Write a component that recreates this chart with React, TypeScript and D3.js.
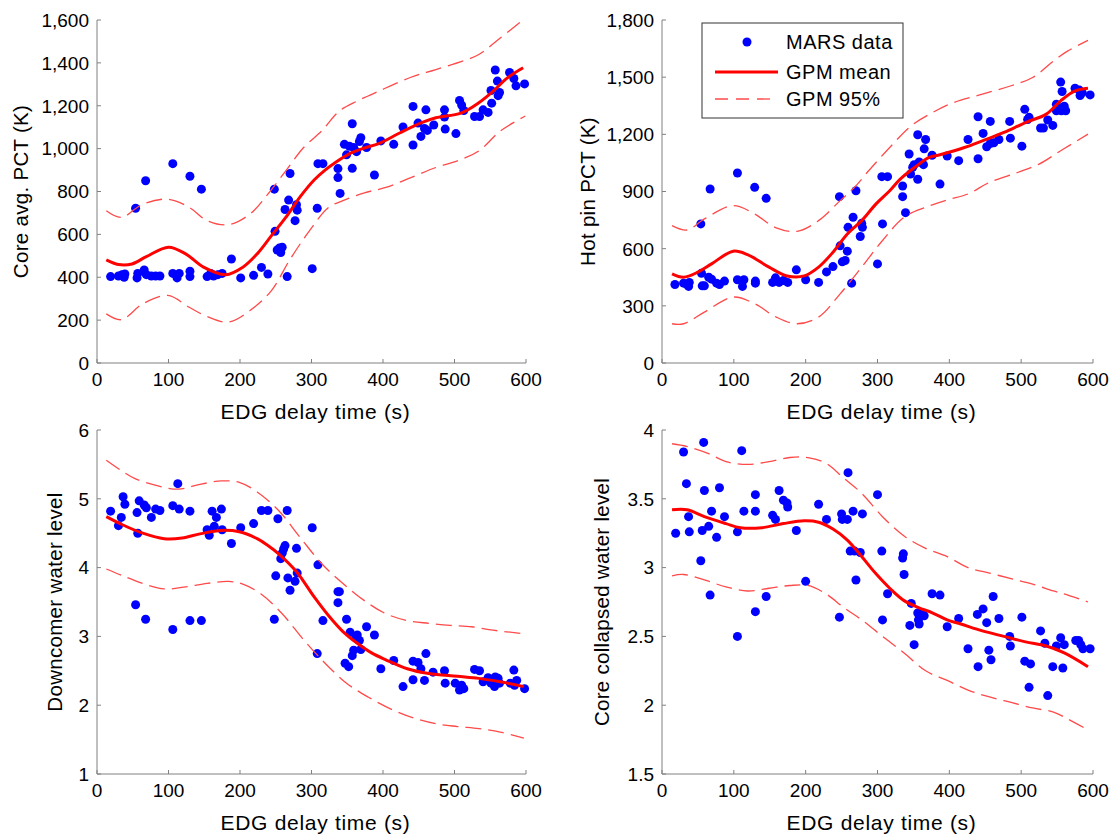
import React from "react";
import * as d3 from "d3";

// MARS runs: [EDG delay time (s), value]
const coreAvgPct: [number, number][] = [
  [19, 403], [30, 406], [35, 412], [38, 400], [39, 415], [54, 722], [56, 397], [57, 418], [66, 434], [68, 850],
  [69, 412], [76, 406], [82, 406], [88, 406], [106, 930], [106, 418], [112, 397], [115, 418], [130, 871], [130, 428],
  [130, 403], [146, 811], [154, 403], [159, 418], [163, 406], [169, 412], [175, 418], [188, 485], [201, 397], [219, 409],
  [230, 446], [239, 415], [248, 811], [249, 614], [252, 527], [255, 536], [257, 515], [259, 540], [263, 716], [266, 403],
  [268, 760], [270, 884], [277, 664], [279, 738], [280, 713], [301, 440], [308, 722], [309, 930], [316, 930], [337, 907],
  [337, 865], [340, 791], [346, 1020], [349, 971], [353, 1011], [357, 1116], [357, 908], [359, 1005], [363, 986], [367, 1033],
  [369, 1051], [377, 1005], [388, 877], [397, 1036], [415, 1020], [428, 1101], [442, 1197], [442, 1017], [449, 1119], [453, 1057],
  [458, 1094], [460, 1181], [462, 1085], [471, 1110], [486, 1181], [486, 1147], [487, 1091], [502, 1070], [507, 1225], [510, 1203],
  [513, 1178], [528, 1150], [535, 1150], [540, 1181], [547, 1169], [551, 1271], [552, 1212], [557, 1367], [560, 1315], [561, 1247],
  [563, 1262], [577, 1355], [583, 1327], [586, 1293], [598, 1302],
];
const coreAvgMean: [number, number][] = [
  [13, 481], [30, 459], [49, 462], [69, 496], [100, 540], [124, 509], [149, 447], [180, 412], [204, 447], [224, 509],
  [244, 594], [264, 679], [284, 775], [304, 855], [319, 900], [332, 932], [354, 978], [374, 1003], [394, 1023], [424, 1074],
  [454, 1121], [474, 1144], [509, 1166], [534, 1214], [554, 1268], [574, 1330], [596, 1377],
];
const coreAvgUpper: [number, number][] = [
  [13, 710], [34, 679], [64, 741], [99, 764], [129, 726], [154, 664], [184, 645], [214, 695], [239, 788], [264, 896],
  [289, 1005], [314, 1082], [339, 1175], [364, 1222], [394, 1268], [439, 1333], [474, 1369], [514, 1411], [534, 1439], [564, 1516],
  [599, 1609],
];
const coreAvgLower: [number, number][] = [
  [13, 229], [34, 202], [64, 276], [99, 315], [129, 260], [154, 217], [184, 191], [214, 245], [244, 338], [269, 478],
  [294, 602], [324, 726], [344, 757], [374, 794], [404, 819], [439, 865], [474, 912], [504, 943], [534, 989], [564, 1082],
  [599, 1152],
];

const hotPinPct: [number, number][] = [
  [18, 412], [30, 419], [35, 412], [37, 402], [38, 423], [54, 730], [55, 471], [56, 405], [59, 405], [65, 450],
  [67, 913], [69, 440], [76, 419], [80, 412], [87, 430], [105, 997], [105, 437], [112, 402], [114, 437], [129, 922],
  [130, 430], [130, 419], [145, 864], [154, 423], [158, 447], [163, 423], [169, 433], [175, 423], [187, 489], [200, 437],
  [218, 423], [229, 478], [238, 506], [247, 873], [248, 615], [251, 531], [255, 538], [258, 587], [259, 712], [264, 419],
  [266, 765], [270, 904], [276, 664], [278, 733], [279, 712], [300, 520], [306, 978], [307, 730], [314, 978], [335, 873],
  [335, 929], [339, 789], [344, 1097], [346, 992], [349, 1027], [351, 1041], [356, 1198], [356, 964], [358, 1055], [364, 1041],
  [365, 1124], [367, 1173], [376, 1090], [387, 939], [397, 1086], [413, 1062], [426, 1173], [440, 1292], [440, 1072], [447, 1205],
  [452, 1135], [457, 1268], [457, 1152], [462, 1156], [469, 1173], [484, 1268], [485, 1180], [501, 1138], [505, 1331], [509, 1278],
  [511, 1289], [527, 1233], [531, 1233], [537, 1275], [544, 1247], [549, 1358], [549, 1324], [555, 1474], [556, 1324], [557, 1425],
  [560, 1348], [562, 1324], [575, 1442], [581, 1432], [582, 1404], [585, 1418], [596, 1407],
];
const hotPinMean: [number, number][] = [
  [14, 468], [30, 450], [50, 477], [69, 520], [99, 587], [119, 569], [149, 503], [174, 457], [198, 457], [218, 503],
  [238, 581], [258, 677], [278, 747], [298, 835], [317, 904], [332, 966], [352, 1027], [372, 1079], [387, 1093], [421, 1131],
  [446, 1166], [476, 1210], [506, 1262], [535, 1306], [555, 1376], [575, 1428], [593, 1442],
];
const hotPinUpper: [number, number][] = [
  [14, 721], [35, 698], [59, 756], [99, 826], [129, 782], [159, 709], [188, 691], [218, 747], [248, 852], [268, 922],
  [288, 1010], [317, 1131], [347, 1245], [377, 1315], [406, 1367], [446, 1411], [486, 1455], [516, 1498], [545, 1585], [565, 1638],
  [593, 1693],
];
const hotPinLower: [number, number][] = [
  [14, 206], [30, 206], [59, 267], [99, 346], [129, 311], [159, 241], [188, 206], [218, 241], [248, 363], [278, 503],
  [307, 643], [337, 765], [367, 817], [397, 856], [426, 887], [456, 948], [496, 1001], [525, 1044], [555, 1114], [593, 1201],
];

const downcomerLevel: [number, number][] = [
  [19, 4.82], [30, 4.61], [34, 4.73], [36.5, 5.03], [39, 4.92], [54, 3.46], [56, 4.8], [57, 4.5], [59, 4.97], [66, 4.91],
  [68, 3.25], [69, 4.87], [76, 4.73], [82, 4.85], [88, 4.83], [106, 4.9], [106, 3.1], [113, 5.22], [115, 4.85], [130, 3.23],
  [130, 4.82], [146, 3.23], [154, 4.55], [157, 4.47], [161, 4.82], [164, 4.6], [167, 4.73], [174, 4.85], [175, 4.55], [188, 4.35],
  [201, 4.58], [219, 4.64], [230, 4.83], [239, 4.83], [248, 3.25], [250, 3.88], [253, 4.71], [257, 4.13], [259, 4.21], [261, 4.27],
  [263, 4.32], [266, 4.83], [267, 3.85], [270, 3.67], [277, 3.8], [279, 4.28], [280, 3.92], [301, 4.58], [308, 2.75], [309, 4.04],
  [316, 3.23], [337, 3.65], [337, 3.49], [339, 3.65], [347, 2.61], [349, 3.25], [352, 2.56], [354, 3.06], [357, 2.72], [359, 2.8],
  [362, 2.99], [364, 3.02], [367, 2.94], [369, 2.81], [377, 3.14], [388, 3.02], [397, 2.53], [415, 2.65], [428, 2.27], [442, 2.64],
  [442, 2.37], [449, 2.62], [453, 2.53], [458, 2.36], [460, 2.75], [470, 2.48], [486, 2.5], [487, 2.32], [501, 2.32], [507, 2.22],
  [510, 2.29], [513, 2.24], [528, 2.52], [535, 2.5], [540, 2.34], [547, 2.4], [551, 2.32], [556, 2.27], [557, 2.41], [561, 2.39],
  [563, 2.32], [578, 2.32], [583, 2.51], [584, 2.29], [587, 2.36], [598, 2.24],
];
const downcomerMean: [number, number][] = [
  [13, 4.74], [34, 4.63], [64, 4.5], [94, 4.42], [119, 4.43], [144, 4.49], [174, 4.54], [199, 4.52], [224, 4.42], [239, 4.32],
  [254, 4.2], [279, 3.94], [304, 3.57], [324, 3.3], [344, 3.07], [364, 2.9], [384, 2.76], [404, 2.66], [434, 2.53], [464, 2.46],
  [504, 2.42], [534, 2.39], [564, 2.34], [597, 2.27],
];
const downcomerUpper: [number, number][] = [
  [13, 5.56], [34, 5.41], [54, 5.29], [84, 5.19], [114, 5.14], [144, 5.21], [174, 5.26], [199, 5.24], [224, 5.1], [254, 4.83],
  [284, 4.44], [314, 4.06], [344, 3.77], [374, 3.52], [404, 3.33], [434, 3.23], [464, 3.19], [494, 3.16], [524, 3.14], [554, 3.09],
  [597, 3.04],
];
const downcomerLower: [number, number][] = [
  [13, 3.98], [34, 3.89], [64, 3.77], [94, 3.69], [124, 3.72], [154, 3.77], [184, 3.8], [204, 3.76], [229, 3.62], [259, 3.33],
  [289, 2.95], [319, 2.61], [349, 2.32], [379, 2.12], [414, 1.93], [444, 1.81], [474, 1.73], [504, 1.69], [534, 1.66], [564, 1.61],
  [597, 1.52],
];

const coreLevel: [number, number][] = [
  [19, 3.25], [30, 3.84], [34, 3.61], [37, 3.37], [38, 3.26], [54, 3.05], [56, 3.27], [58, 3.91], [59, 3.56], [65, 3.3],
  [67, 2.8], [69, 3.41], [76, 3.22], [80, 3.58], [87, 3.37], [105, 3.26], [105, 2.5], [111, 3.85], [114, 3.41], [130, 3.53],
  [130, 3.41], [130, 2.68], [145, 2.79], [154, 3.38], [158, 3.35], [163, 3.56], [169, 3.49], [174, 3.47], [175, 3.44], [187, 3.27],
  [200, 2.9], [218, 3.46], [229, 3.35], [247, 2.64], [250, 3.39], [251, 3.35], [258, 3.35], [259, 3.69], [262, 3.12], [266, 3.41],
  [268, 3.12], [270, 2.91], [276, 3.11], [279, 3.39], [300, 3.53], [306, 3.12], [307, 2.62], [314, 2.81], [335, 3.07], [336, 3.1],
  [337, 2.95], [345, 2.58], [347, 2.74], [351, 2.44], [356, 2.67], [357, 2.62], [358, 2.59], [362, 2.67], [365, 2.65], [376, 2.81],
  [387, 2.8], [397, 2.57], [413, 2.63], [426, 2.41], [439, 2.66], [440, 2.28], [447, 2.7], [452, 2.6], [455, 2.4], [458, 2.33],
  [461, 2.79], [469, 2.63], [484, 2.5], [485, 2.43], [501, 2.64], [505, 2.32], [511, 2.13], [513, 2.3], [527, 2.54], [533, 2.45],
  [537, 2.07], [544, 2.28], [549, 2.43], [555, 2.49], [558, 2.27], [560, 2.44], [576, 2.47], [580, 2.47], [583, 2.44], [586, 2.41],
  [596, 2.41],
];
const coreLevelMean: [number, number][] = [
  [14, 3.42], [35, 3.42], [59, 3.37], [89, 3.32], [109, 3.29], [139, 3.29], [169, 3.32], [198, 3.34], [218, 3.33], [238, 3.28],
  [258, 3.2], [278, 3.08], [297, 2.96], [317, 2.85], [337, 2.76], [357, 2.71], [377, 2.67], [397, 2.62], [416, 2.59], [446, 2.54],
  [476, 2.5], [506, 2.46], [535, 2.43], [560, 2.38], [593, 2.28],
];
const coreLevelUpper: [number, number][] = [
  [14, 3.9], [35, 3.88], [64, 3.83], [89, 3.77], [119, 3.75], [149, 3.77], [178, 3.8], [203, 3.8], [228, 3.76], [253, 3.65],
  [278, 3.54], [307, 3.37], [337, 3.23], [367, 3.14], [397, 3.08], [426, 3.0], [456, 2.96], [486, 2.92], [516, 2.88], [545, 2.83],
  [565, 2.8], [593, 2.75],
];
const coreLevelLower: [number, number][] = [
  [14, 2.94], [30, 2.95], [59, 2.91], [89, 2.86], [119, 2.83], [149, 2.85], [178, 2.87], [203, 2.87], [228, 2.81], [253, 2.71],
  [278, 2.62], [307, 2.5], [337, 2.38], [367, 2.25], [397, 2.18], [426, 2.11], [456, 2.06], [486, 2.02], [516, 1.98], [545, 1.95],
  [565, 1.9], [593, 1.82],
];

const timeTicks = [0, 100, 200, 300, 400, 500, 600];
const coreAvgTicks = [0, 200, 400, 600, 800, 1000, 1200, 1400, 1600];
const hotPinTicks = [0, 300, 600, 900, 1200, 1500, 1800];
const downcomerTicks = [1, 2, 3, 4, 5, 6];
const coreLevelTicks = [1.5, 2, 2.5, 3, 3.5, 4];

const legendLabels = ["MARS data", "GPM mean", "GPM 95%"];
const xTitle = "EDG delay time (s)";

const FONT = "'Liberation Sans', Arial, sans-serif";
const AXIS_COLOR = "#808080";
const BLUE = "#0000ff";
const RED = "#ff0000";
const DASH_RED = "#ff4a4a";

const panels = [
  {
    key: "coreAvg", left: 97, right: 526, top: 20, bottom: 363,
    yDomain: [0, 1600], yTicks: coreAvgTicks, fmt: d3.format(","),
    yTitle: "Core avg. PCT (K)", titleX: 21,
    points: coreAvgPct, mean: coreAvgMean, upper: coreAvgUpper, lower: coreAvgLower,
  },
  {
    key: "hotPin", left: 662, right: 1093, top: 20, bottom: 363,
    yDomain: [0, 1800], yTicks: hotPinTicks, fmt: d3.format(","),
    yTitle: "Hot pin PCT (K)", titleX: 588,
    points: hotPinPct, mean: hotPinMean, upper: hotPinUpper, lower: hotPinLower,
  },
  {
    key: "downcomer", left: 97, right: 526, top: 430, bottom: 774,
    yDomain: [1, 6], yTicks: downcomerTicks, fmt: d3.format("d"),
    yTitle: "Downcomer water level", titleX: 55,
    points: downcomerLevel, mean: downcomerMean, upper: downcomerUpper, lower: downcomerLower,
  },
  {
    key: "coreLevel", left: 662, right: 1093, top: 430, bottom: 774,
    yDomain: [1.5, 4], yTicks: coreLevelTicks, fmt: (v: number) => String(v),
    yTitle: "Core collapsed water level", titleX: 602,
    points: coreLevel, mean: coreLevelMean, upper: coreLevelUpper, lower: coreLevelLower,
  },
];

function Panel({ p }: { p: (typeof panels)[number] }) {
  const x = d3.scaleLinear().domain([0, 600]).range([p.left, p.right]);
  const y = d3.scaleLinear().domain(p.yDomain).range([p.bottom, p.top]);
  const line = d3
    .line<[number, number]>()
    .x((d) => x(d[0]))
    .y((d) => y(d[1]))
    .curve(d3.curveCatmullRom.alpha(0.5));
  const midY = (p.top + p.bottom) / 2;

  return (
    <g>
      {/* axes */}
      <path
        d={`M${p.left},${p.top}V${p.bottom}H${p.right}`}
        fill="none"
        stroke={AXIS_COLOR}
        strokeWidth={1}
      />
      {timeTicks.map((t) => (
        <g key={"x" + t}>
          <line x1={x(t)} x2={x(t)} y1={p.bottom} y2={p.bottom - 4} stroke={AXIS_COLOR} />
          <text x={x(t)} y={p.bottom + 23} textAnchor="middle" fontSize={19}>
            {t}
          </text>
        </g>
      ))}
      {p.yTicks.map((v) => (
        <g key={"y" + v}>
          <line x1={p.left} x2={p.left + 4} y1={y(v)} y2={y(v)} stroke={AXIS_COLOR} />
          <text x={p.left - 8} y={y(v)} dy="0.36em" textAnchor="end" fontSize={19}>
            {p.fmt(v)}
          </text>
        </g>
      ))}
      <text
        x={(p.left + p.right) / 2 + 4}
        y={p.bottom + 56}
        textAnchor="middle"
        fontSize={21}
        letterSpacing={0.7}
      >
        {xTitle}
      </text>
      <text
        transform={`translate(${p.titleX},${midY}) rotate(-90)`}
        dy="0.36em"
        textAnchor="middle"
        fontSize={20.5}
        letterSpacing={0.3}
      >
        {p.yTitle}
      </text>

      {/* data */}
      {p.points.map((d, i) => (
        <circle key={i} cx={x(d[0])} cy={y(d[1])} r={4.5} fill={BLUE} />
      ))}
      <path d={line(p.mean) ?? ""} fill="none" stroke={RED} strokeWidth={3} />
      <path d={line(p.upper) ?? ""} fill="none" stroke={DASH_RED} strokeWidth={1.3} strokeDasharray="16,7" />
      <path d={line(p.lower) ?? ""} fill="none" stroke={DASH_RED} strokeWidth={1.3} strokeDasharray="16,7" />
    </g>
  );
}

function Legend() {
  const lx = 702;
  const ly = 23;
  const rows = [42, 72, 99];
  return (
    <g>
      <rect x={lx} y={ly} width={201} height={95} fill="#fff" stroke="#333" strokeWidth={1} />
      <circle cx={747} cy={rows[0]} r={4.5} fill={BLUE} />
      <line x1={715} x2={778} y1={rows[1]} y2={rows[1]} stroke={RED} strokeWidth={3} />
      <line x1={715} x2={778} y1={rows[2]} y2={rows[2]} stroke={DASH_RED} strokeWidth={1.3} strokeDasharray="13,8" />
      {legendLabels.map((s, i) => (
        <text key={s} x={786} y={rows[i]} dy="0.36em" fontSize={20} letterSpacing={0.5}>
          {s}
        </text>
      ))}
    </g>
  );
}

export default function App() {
  return (
    <svg
      width={1113}
      height={836}
      style={{ position: "absolute", left: 0, top: 0, background: "#fff" }}
      fontFamily={FONT}
      fill="#000"
    >
      {panels.map((p) => (
        <Panel key={p.key} p={p} />
      ))}
      <Legend />
    </svg>
  );
}
